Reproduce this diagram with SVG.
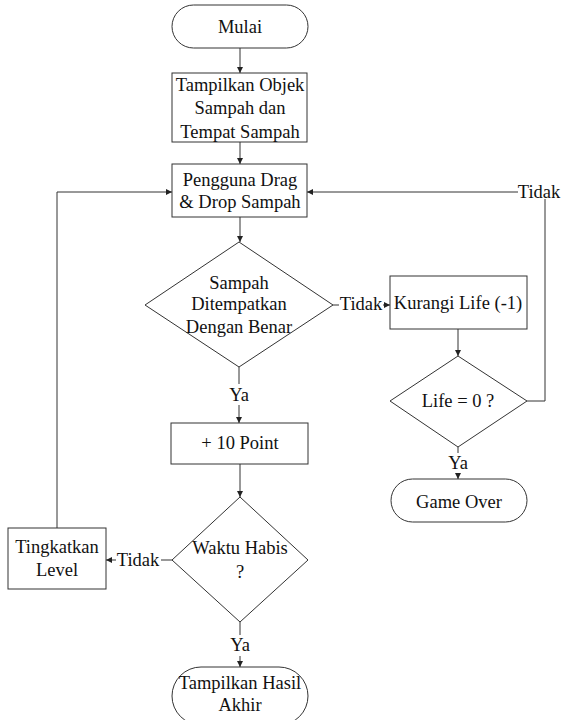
<svg xmlns="http://www.w3.org/2000/svg" width="564" height="720" viewBox="0 0 564 720">
  <defs>
    <marker id="arrow" markerWidth="7" markerHeight="6" refX="6" refY="3" orient="auto" markerUnits="userSpaceOnUse">
      <path d="M0,0 L6,3 L0,6 Z" fill="#222"/>
    </marker>
    <style>
      .shape { fill: #fff; stroke: #333; stroke-width: 1; }
      .line { fill: none; stroke: #333; stroke-width: 1; }
      .arr { marker-end: url(#arrow); }
      text { font-family: "Liberation Serif", "Times New Roman", serif; font-size: 18.5px; fill: #111; text-anchor: middle; }
    </style>
  </defs>
  <rect width="564" height="720" fill="#fff"/>

  <g id="connectors">
    <line class="line arr" x1="240" y1="48" x2="240" y2="73"/>
    <line class="line arr" x1="240" y1="142" x2="240" y2="164"/>
    <line class="line arr" x1="240" y1="217" x2="240" y2="242"/>
    <line class="line" x1="333" y1="305" x2="339" y2="305"/>
    <line class="line arr" x1="383" y1="305" x2="390" y2="305"/>
    <line class="line" x1="239" y1="367" x2="239" y2="384"/>
    <line class="line arr" x1="239" y1="405" x2="239" y2="423"/>
    <line class="line arr" x1="458" y1="329" x2="458" y2="356"/>
    <polyline class="line" points="527,401 545,401 545,199"/>
    <line class="line arr" x1="518" y1="192" x2="307" y2="192"/>
    <line class="line" x1="458" y1="447" x2="458" y2="453"/>
    <line class="line arr" x1="458" y1="474" x2="458" y2="479"/>
    <line class="line arr" x1="240" y1="464" x2="240" y2="497"/>
    <line class="line" x1="172" y1="560" x2="161" y2="560"/>
    <line class="line arr" x1="116" y1="560" x2="106" y2="560"/>
    <polyline class="line arr" points="57,528 57,192 172,192"/>
    <line class="line" x1="240" y1="622" x2="240" y2="635"/>
    <line class="line arr" x1="240" y1="656" x2="240" y2="667"/>
    <text x="361" y="310">Tidak</text>
    <text x="239" y="401">Ya</text>
    <text x="539" y="198">Tidak</text>
    <text x="458" y="469">Ya</text>
    <text x="138" y="566">Tidak</text>
    <text x="240" y="651">Ya</text>
  </g>

  <g id="mulai">
    <rect class="shape" x="172" y="5" width="136" height="43" rx="21.5"/>
    <text x="240" y="33">Mulai</text>
  </g>

  <g id="tampilkan-objek">
    <rect class="shape" x="172" y="73" width="135" height="69"/>
    <text x="240" y="91">Tampilkan Objek</text>
    <text x="240" y="114">Sampah dan</text>
    <text x="240" y="138">Tempat Sampah</text>
  </g>

  <g id="drag-drop">
    <rect class="shape" x="172" y="164" width="135" height="53"/>
    <text x="240" y="186">Pengguna Drag</text>
    <text x="240" y="208">&amp; Drop Sampah</text>
  </g>

  <g id="cek-sampah">
    <polygon class="shape" points="239,242 333,305 239,367 145,305"/>
    <text x="239" y="289">Sampah</text>
    <text x="239" y="310">Ditempatkan</text>
    <text x="239" y="333">Dengan Benar</text>
  </g>

  <g id="kurangi-life">
    <rect class="shape" x="390" y="276" width="137" height="53"/>
    <text x="458" y="309">Kurangi Life (-1)</text>
  </g>

  <g id="cek-life">
    <polygon class="shape" points="458,356 527,401 458,447 390,401"/>
    <text x="458" y="407">Life = 0 ?</text>
  </g>

  <g id="game-over">
    <rect class="shape" x="391" y="479" width="136" height="43" rx="21.5"/>
    <text x="459" y="508">Game Over</text>
  </g>

  <g id="tambah-point">
    <rect class="shape" x="171" y="423" width="137" height="41"/>
    <text x="240" y="449">+ 10 Point</text>
  </g>

  <g id="cek-waktu">
    <polygon class="shape" points="240,497 308,560 240,622 172,560"/>
    <text x="240" y="554">Waktu Habis</text>
    <text x="240" y="578">?</text>
  </g>

  <g id="tingkatkan-level">
    <rect class="shape" x="8" y="528" width="98" height="61"/>
    <text x="57" y="553">Tingkatkan</text>
    <text x="57" y="576">Level</text>
  </g>

  <g id="hasil-akhir">
    <rect class="shape" x="172" y="667" width="136" height="58" rx="29"/>
    <text x="240" y="689">Tampilkan Hasil</text>
    <text x="240" y="711">Akhir</text>
  </g>
</svg>
